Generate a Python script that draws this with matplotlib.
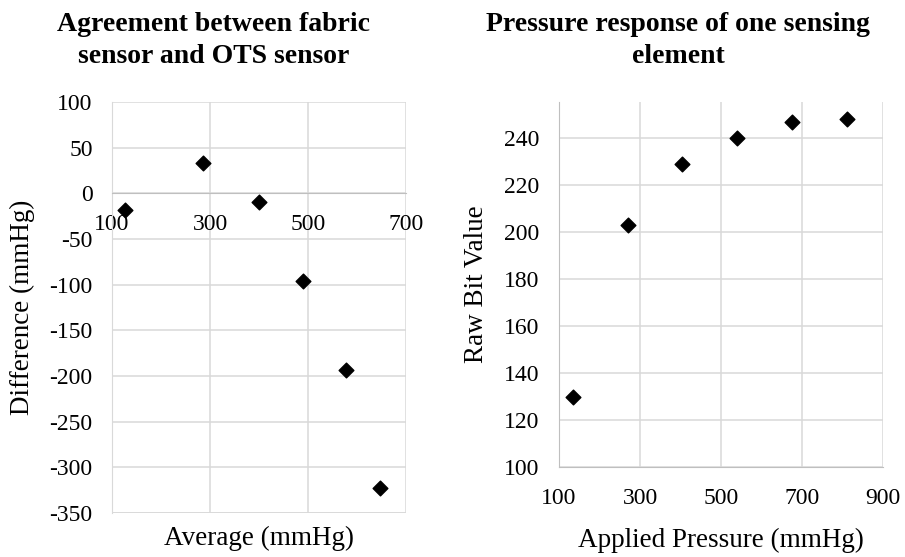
import matplotlib.pyplot as plt

plt.rcParams["font.family"] = ["Liberation Serif", "DejaVu Serif"]
plt.rcParams["axes.unicode_minus"] = False

# left panel: agreement (Bland-Altman style)
avg_mmhg = [127, 286, 400, 490, 577, 647]
diff_mmhg = [-18, 33, -10, -96, -194, -323]

# right panel: pressure response
applied_mmhg = [135, 271, 404, 539, 675, 810]
raw_bits = [130, 203, 229, 240, 247, 248]

left_xticks = [100, 300, 500, 700]
left_yticks = [100, 50, 0, -50, -100, -150, -200, -250, -300, -350]
right_xticks = [100, 300, 500, 700, 900]
right_yticks = [100, 120, 140, 160, 180, 200, 220, 240]

GRID = "#d9d9d9"
AXIS = "#bfbfbf"
TICK_FS = 17
LABEL_FS = 19.5
TITLE_FS = 20
MARKER_S = 56


def style_axes(ax):
    ax.grid(True, color=GRID, linewidth=1.1)
    ax.set_axisbelow(True)
    ax.tick_params(length=0, labelsize=TICK_FS, pad=14)
    ax.tick_params(axis="x", pad=15)
    for side in ["top", "right"]:
        ax.spines[side].set_visible(False)


fig = plt.figure(figsize=(9.05, 5.57), dpi=100)

ax1 = fig.add_axes([0.1238, 0.079, 0.3249, 0.738])
ax1.scatter(avg_mmhg, diff_mmhg, marker="D", s=MARKER_S, color="black", zorder=3)
ax1.set_xlim(100, 700)
ax1.set_ylim(-350, 100)
ax1.set_xticks(left_xticks)
ax1.set_yticks(left_yticks)
style_axes(ax1)
ax1.spines["left"].set_color(GRID)
ax1.spines["bottom"].set_position(("data", 0))
ax1.spines["bottom"].set_color(AXIS)
ax1.axhline(-350, color=GRID, linewidth=1.1, zorder=0)
ax1.set_ylabel("Difference (mmHg)", fontsize=LABEL_FS, labelpad=10)
ax1.text(0.5, -0.032, "Average (mmHg)", transform=ax1.transAxes,
         ha="center", va="top", fontsize=LABEL_FS)

ax2 = fig.add_axes([0.6177, 0.1616, 0.358, 0.655])
ax2.scatter(applied_mmhg, raw_bits, marker="D", s=MARKER_S, color="black", zorder=3)
ax2.set_xlim(100, 900)
ax2.set_ylim(100, 255.3)
ax2.set_xticks(right_xticks)
ax2.set_yticks(right_yticks)
style_axes(ax2)
ax2.spines["left"].set_color(AXIS)
ax2.spines["bottom"].set_color(AXIS)
ax2.set_xlabel("Applied Pressure (mmHg)", fontsize=LABEL_FS, labelpad=14)
ax2.set_ylabel("Raw Bit Value", fontsize=LABEL_FS, labelpad=11)

# titles sit a bit left of the plot centres, as in the source figure
fig.text(213.5 / 905, 1 - 12 / 557, "Agreement between fabric\nsensor and OTS sensor",
         ha="center", va="top", fontsize=TITLE_FS, fontweight="bold",
         linespacing=1.35)
fig.text(678 / 905, 1 - 12 / 557, "Pressure response of one sensing\nelement",
         ha="center", va="top", fontsize=TITLE_FS, fontweight="bold",
         linespacing=1.35)

fig.savefig("out.png", dpi=100, facecolor="white")
